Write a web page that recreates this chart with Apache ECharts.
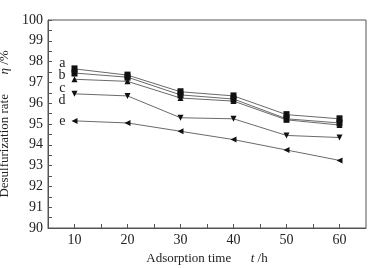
<!DOCTYPE html>
<html>
<head>
<meta charset="utf-8">
<script src="https://cdn.jsdelivr.net/npm/echarts@6/dist/echarts.min.js"></script>
<style>
html, body { margin: 0; padding: 0; background: #fff; }
#chart { width: 381px; height: 268px; }
</style>
</head>
<body>
<div id="chart"></div>
<script>
var times = [10, 20, 30, 40, 50, 60];
var seriesA = [97.65, 97.35, 96.55, 96.35, 95.45, 95.25];
var seriesB = [97.45, 97.25, 96.4, 96.2, 95.25, 95.05];
var seriesC = [97.15, 97.05, 96.25, 96.1, 95.2, 94.95];
var seriesD = [96.45, 96.35, 95.3, 95.25, 94.45, 94.35];
var seriesE = [95.15, 95.05, 94.65, 94.25, 93.75, 93.25];
var names = ['a', 'b', 'c', 'd', 'e'];

var font = 'Liberation Serif';

function pairs(vals, name, dy) {
	return vals.map(function(v, i) {
		var item = { value: [times[i], v] };
		if (i === 0) {
			//曲线名称标签
			item.label = {
				show: true,
				position: 'left',
				distance: 6,
				offset: [0, dy],
				formatter: name,
				fontFamily: font,
				fontSize: 14,
				color: '#222'
			};
		}
		return item;
	});
}

function makeSeries(vals, name, symbol, rotate, size, dy) {
	return {
		name: name,
		type: 'line',
		data: pairs(vals, name, dy),
		symbol: symbol,
		symbolRotate: rotate,
		symbolSize: size,
		lineStyle: { color: '#444', width: 0.8 },
		itemStyle: { color: '#111' },
		z: 3
	};
}

var myChart = echarts.init(document.getElementById('chart'));
var option = {
	animation: false,
	grid: {
		left: 48,
		top: 20,
		right: 15,
		bottom: 40,
		outerBoundsMode: 'none',
		containLabel: false,
		show: true,
		borderColor: '#555',
		borderWidth: 1
	},
	xAxis: {
		type: 'value',
		min: 5,
		max: 65,
		interval: 5,
		name: '{n|Adsorption time}      {i|t} /h',
		nameLocation: 'middle',
		nameGap: 23,
		nameTextStyle: {
			fontFamily: font,
			fontSize: 13,
			color: '#222',
			rich: {
				n: { fontFamily: font, fontSize: 13, color: '#222' },
				i: { fontFamily: font, fontSize: 13, fontStyle: 'italic', color: '#222' }
			}
		},
		axisLine: { lineStyle: { color: '#555', width: 1 } },
		axisTick: { inside: true, length: 4, lineStyle: { color: '#555' } },
		splitLine: { show: false },
		axisLabel: {
			showMinLabel: false,
			showMaxLabel: false,
			fontFamily: font,
			fontSize: 14,
			color: '#222',
			margin: 5,
			formatter: function(v) {
				return v % 10 === 0 ? String(v) : '';
			}
		}
	},
	yAxis: {
		type: 'value',
		min: 90,
		max: 100,
		interval: 0.5,
		name: '{n|Desulfurization rate}      {i|η} /%',
		nameLocation: 'middle',
		nameGap: 28,
		nameRotate: 90,
		nameTextStyle: {
			fontFamily: font,
			fontSize: 13,
			color: '#222',
			rich: {
				n: { fontFamily: font, fontSize: 13, color: '#222' },
				i: { fontFamily: font, fontSize: 13, fontStyle: 'italic', color: '#222' }
			}
		},
		axisLine: { show: true, lineStyle: { color: '#555', width: 1 } },
		axisTick: { show: true, inside: true, length: 4, lineStyle: { color: '#555' } },
		splitLine: { show: false },
		axisLabel: {
			fontFamily: font,
			fontSize: 14,
			color: '#222',
			margin: 5,
			formatter: function(v) {
				return v % 1 === 0 ? String(v) : '';
			}
		}
	},
	series: [
		makeSeries(seriesA, names[0], 'rect', 0, [6, 7], -6),
		makeSeries(seriesB, names[1], 'rect', 0, [6, 7], 2),
		makeSeries(seriesC, names[2], 'triangle', 0, 6, 9),
		makeSeries(seriesD, names[3], 'triangle', 180, 6, 6),
		makeSeries(seriesE, names[4], 'triangle', 90, 6, 0)
	]
};
myChart.setOption(option);
</script>
</body>
</html>
